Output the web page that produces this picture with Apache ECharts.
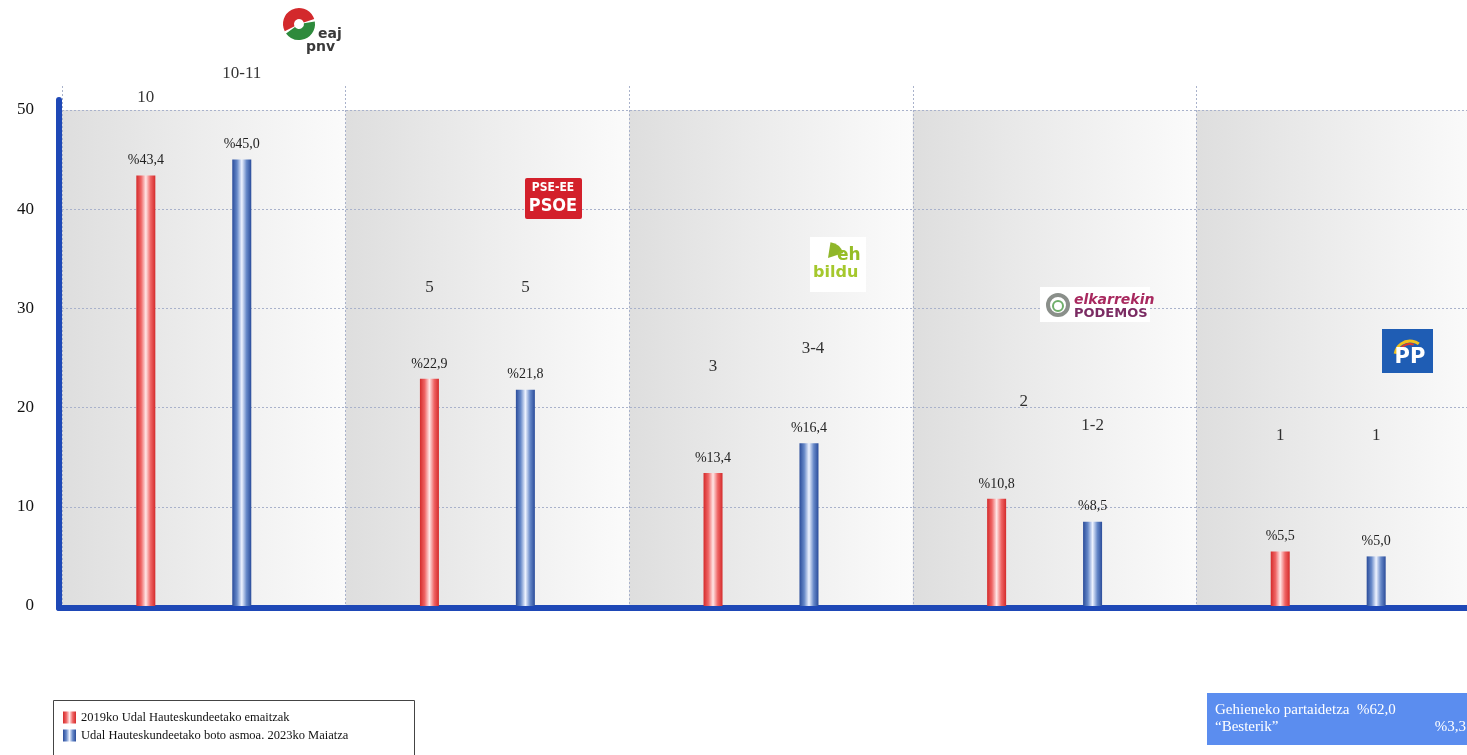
<!DOCTYPE html>
<html><head><meta charset="utf-8">
<script src="https://cdn.jsdelivr.net/npm/echarts@6/dist/echarts.min.js"></script>
<style>html,body{margin:0;padding:0;background:#fff}#c{width:1467px;height:755px}</style>
</head><body><div id="c"></div>
<script>
// ---- data ----
const parties = ['EAJ-PNV', 'PSE-EE (PSOE)', 'EH Bildu', 'Elkarrekin Podemos', 'PP'];
const results2019 = [43.4, 22.9, 13.4, 10.8, 5.5];
const intention2023 = [45.0, 21.8, 16.4, 8.5, 5.0];
const seats2019 = ['10', '5', '3', '2', '1'];
const seats2023 = ['10-11', '5', '3-4', '1-2', '1'];
const seatLevel2019 = [51.3, 32.1, 24.1, 20.6, 17.2];
const seatLevel2023 = [53.7, 32.1, 26.0, 18.2, 17.2];
const yTicks = [0, 10, 20, 30, 40, 50];
const seriesNames = ['2019ko Udal Hauteskundeetako emaitzak', 'Udal Hauteskundeetako boto asmoa. 2023ko Maiatza'];
const maxParticipation = '%62,0';
const othersShare = '%3,3';

// ---- layout ----
const SERIF = 'Liberation Serif';
const PX = 9.92;               // pixels per unit
const ZERO_Y = 606;
const BAR_W = 19, GAP_PCT = 405;
const HALF = BAR_W * (1 + GAP_PCT / 100) / 2;
const seatShift2019 = [0, 0, 0, 27, 0];
const seatShift2023 = [0, 0, 4, 0, 0];
const AXIS_BLUE = '#1e48b6';
const yMin = yTicks[0], yMax = yTicks[yTicks.length - 1], yStep = yTicks[1] - yTicks[0];
const barMax = 55;

const bandFill = {type: 'linear', x: 0, y: 0, x2: 1, y2: 0, colorStops: [
  {offset: 0, color: '#dedede'}, {offset: 0.5, color: '#ededed'}, {offset: 1, color: '#fbfbfb'}]};
const redFill = {type: 'linear', x: 0, y: 0, x2: 1, y2: 0, colorStops: [
  {offset: 0, color: '#d42b2b'}, {offset: 0.25, color: '#ef6464'}, {offset: 0.5, color: '#ffe6e6'},
  {offset: 0.75, color: '#ef6464'}, {offset: 1, color: '#d42b2b'}]};
const blueFill = {type: 'linear', x: 0, y: 0, x2: 1, y2: 0, colorStops: [
  {offset: 0, color: '#2a4c9a'}, {offset: 0.25, color: '#6688c8'}, {offset: 0.5, color: '#eef3ff'},
  {offset: 0.75, color: '#6688c8'}, {offset: 1, color: '#2a4c9a'}]};

const fmtPct = v => '%' + v.toFixed(1).replace('.', ',');
const dotted = {color: '#a9b2cb', width: 1, type: [2, 2]};

const chart = echarts.init(document.getElementById('c'), null, {renderer: 'canvas'});

function seatData(seats, levels, shifts, side) {
  return seats.map((s, i) => ({
    value: [i, levels[i]],
    label: {formatter: s, offset: [side * HALF + shifts[i], 0]}
  }));
}

const G = {outerBoundsMode: 'none', containLabel: false};
const legendBase = {
  orient: 'horizontal', left: 63, itemWidth: 13, itemHeight: 12, icon: 'rect', padding: 0,
  textStyle: {fontFamily: SERIF, fontSize: 12.5, color: '#111'}, z: 12
};

const option = {
  animation: false,
  backgroundColor: '#fff',
  grid: [
    Object.assign({left: 62, width: 1418, top: ZERO_Y - yMax * PX, bottom: 755 - ZERO_Y}, G),   // bands + horizontal lines
    Object.assign({left: 62, width: 1418, top: 86, bottom: 755 - ZERO_Y}, G),                   // vertical separators
    Object.assign({left: 59, width: 1421, top: 100, bottom: 755 - ZERO_Y - 2}, G),              // axis lines
    Object.assign({left: 52, width: 1418, top: ZERO_Y - barMax * PX, bottom: 755 - ZERO_Y}, G)  // bars
  ],
  xAxis: [
    {gridIndex: 0, type: 'category', data: parties, z: 0,
      axisLine: {show: false}, axisTick: {show: false}, axisLabel: {show: false},
      splitLine: {show: false}, splitArea: {show: true, areaStyle: {color: [bandFill]}}},
    {gridIndex: 1, type: 'category', data: parties, z: 1,
      axisLine: {show: false}, axisTick: {show: false}, axisLabel: {show: false},
      splitLine: {show: true, lineStyle: dotted}},
    {gridIndex: 2, type: 'category', data: parties, z: 3,
      axisLine: {show: true, lineStyle: {color: AXIS_BLUE, width: 6}},
      axisTick: {show: false}, axisLabel: {show: false}, splitLine: {show: false}},
    {gridIndex: 3, type: 'category', data: parties, show: false}
  ],
  yAxis: [
    {gridIndex: 0, type: 'value', min: yMin, max: yMax, interval: yStep, z: 1,
      axisLine: {show: false}, axisTick: {show: false},
      axisLabel: {margin: 28, color: '#111', fontFamily: SERIF, fontSize: 17},
      splitLine: {show: true, lineStyle: dotted}},
    {gridIndex: 1, type: 'value', min: 0, max: 1, show: false},
    {gridIndex: 2, type: 'value', min: 0, max: 1, z: 3,
      axisLine: {show: true, lineStyle: {color: AXIS_BLUE, width: 6}},
      axisTick: {show: false}, axisLabel: {show: false}, splitLine: {show: false}},
    {gridIndex: 3, type: 'value', min: 0, max: barMax, show: false}
  ],
  legend: [
    Object.assign({data: [seriesNames[0]], top: 711}, legendBase),
    Object.assign({data: [seriesNames[1]], top: 729}, legendBase)
  ],
  series: [
    {name: seriesNames[0], type: 'bar', xAxisIndex: 3, yAxisIndex: 3, data: results2019,
      barWidth: BAR_W, barGap: GAP_PCT + '%', z: 5, itemStyle: {color: redFill},
      label: {show: true, position: 'top', distance: 8, formatter: p => fmtPct(p.value),
        color: '#222', fontFamily: SERIF, fontSize: 14}},
    {name: seriesNames[1], type: 'bar', xAxisIndex: 3, yAxisIndex: 3, data: intention2023,
      barWidth: BAR_W, barGap: GAP_PCT + '%', z: 5, itemStyle: {color: blueFill},
      label: {show: true, position: 'top', distance: 8, formatter: p => fmtPct(p.value),
        color: '#222', fontFamily: SERIF, fontSize: 14}},
    {name: 'seats2019', type: 'scatter', xAxisIndex: 3, yAxisIndex: 3, z: 6, clip: false,
      symbolSize: 1, itemStyle: {color: 'rgba(0,0,0,0)'},
      label: {show: true, position: 'inside', color: '#000', fontFamily: SERIF, fontSize: 17},
      data: seatData(seats2019, seatLevel2019, seatShift2019, -1)},
    {name: 'seats2023', type: 'scatter', xAxisIndex: 3, yAxisIndex: 3, z: 6, clip: false,
      symbolSize: 1, itemStyle: {color: 'rgba(0,0,0,0)'},
      label: {show: true, position: 'inside', color: '#000', fontFamily: SERIF, fontSize: 17},
      data: seatData(seats2023, seatLevel2023, seatShift2023, 1)}
  ],
  graphic: [
    // legend box
    {type: 'rect', z: 1, shape: {x: 53.5, y: 700.5, width: 361, height: 70}, style: {fill: '#fff', stroke: '#444', lineWidth: 1}},
    // EAJ-PNV logo
    {type: 'sector', z: 10, shape: {cx: 299, cy: 24, r: 16, r0: 5, startAngle: Math.PI * 0.85, endAngle: Math.PI * 1.9}, style: {fill: '#d3292c'}},
    {type: 'sector', z: 10, shape: {cx: 299, cy: 24, r: 16, r0: 5, startAngle: -Math.PI * 0.05, endAngle: Math.PI * 0.8}, style: {fill: '#2e8a3c'}},
    {type: 'text', z: 10, style: {x: 318, y: 34, text: 'eaj', font: 'bold 14px "DejaVu Sans"', fill: '#3a3a3a', textVerticalAlign: 'middle'}},
    {type: 'text', z: 10, style: {x: 306, y: 47, text: 'pnv', font: 'bold 14px "DejaVu Sans"', fill: '#3a3a3a', textVerticalAlign: 'middle'}},
    // PSE-EE PSOE logo
    {type: 'rect', z: 10, shape: {x: 525, y: 178, width: 57, height: 41, r: 2}, style: {fill: '#d3202b'}},
    {type: 'text', z: 11, style: {x: 553, y: 188, text: 'PSE-EE', font: 'bold 12px "DejaVu Sans Condensed", "DejaVu Sans"', fill: '#fff', textAlign: 'center', textVerticalAlign: 'middle'}},
    {type: 'text', z: 11, style: {x: 553, y: 206, text: 'PSOE', font: 'bold 18px "DejaVu Sans Condensed", "DejaVu Sans"', fill: '#fff', textAlign: 'center', textVerticalAlign: 'middle'}},
    // EH Bildu logo
    {type: 'rect', z: 10, shape: {x: 810, y: 237, width: 56, height: 55}, style: {fill: '#ffffff'}},
    {type: 'sector', z: 11, shape: {cx: 828, cy: 258, r: 16, r0: 0, startAngle: -Math.PI * 0.45, endAngle: -Math.PI * 0.1}, style: {fill: '#8fb62a'}},
    {type: 'text', z: 11, style: {x: 837, y: 256, text: 'eh', font: 'bold 17px "DejaVu Sans"', fill: '#96bd26', textVerticalAlign: 'middle'}},
    {type: 'text', z: 11, style: {x: 813, y: 273, text: 'bildu', font: 'bold 16px "DejaVu Sans"', fill: '#a5c82d', textVerticalAlign: 'middle'}},
    // Elkarrekin Podemos logo
    {type: 'rect', z: 10, shape: {x: 1040, y: 287, width: 110, height: 35}, style: {fill: '#ffffff'}},
    {type: 'circle', z: 11, shape: {cx: 1058, cy: 305, r: 10}, style: {fill: 'none', stroke: '#8a8f8a', lineWidth: 4}},
    {type: 'circle', z: 11, shape: {cx: 1058, cy: 306, r: 5}, style: {fill: 'none', stroke: '#6fae6a', lineWidth: 2}},
    {type: 'text', z: 11, style: {x: 1074, y: 300, text: 'elkarrekin', font: 'italic bold 14px "DejaVu Sans"', fill: '#a8295f', textVerticalAlign: 'middle'}},
    {type: 'text', z: 11, style: {x: 1074, y: 314, text: 'PODEMOS', font: 'bold 13px "DejaVu Sans"', fill: '#7b2c63', textVerticalAlign: 'middle'}},
    // PP logo
    {type: 'rect', z: 10, shape: {x: 1382, y: 329, width: 51, height: 44}, style: {fill: '#1f5db4'}},
    {type: 'arc', z: 11, shape: {cx: 1410, cy: 356, r: 15, startAngle: Math.PI * 1.05, endAngle: Math.PI * 1.7}, style: {stroke: '#f2c21b', lineWidth: 3, fill: 'none'}},
    {type: 'arc', z: 11, shape: {cx: 1410, cy: 356, r: 12, startAngle: Math.PI * 1.1, endAngle: Math.PI * 1.6}, style: {stroke: '#e23a2a', lineWidth: 2, fill: 'none'}},
    {type: 'text', z: 11, style: {x: 1410, y: 358, text: 'PP', font: 'bold 21px "DejaVu Sans"', fill: '#fff', textAlign: 'center', textVerticalAlign: 'middle'}},
    // participation box
    {type: 'rect', z: 10, shape: {x: 1207, y: 693, width: 270, height: 52}, style: {fill: '#5b8def'}},
    {type: 'text', z: 11, style: {x: 1215, y: 710, text: 'Gehieneko partaidetza  ' + maxParticipation, font: '15px "Liberation Serif"', fill: '#fff', textVerticalAlign: 'middle'}},
    {type: 'text', z: 11, style: {x: 1215, y: 727, text: '\u201cBesterik\u201d', font: '15px "Liberation Serif"', fill: '#fff', textVerticalAlign: 'middle'}},
    {type: 'text', z: 11, style: {x: 1466, y: 727, text: othersShare, font: '15px "Liberation Serif"', fill: '#fff', textAlign: 'right', textVerticalAlign: 'middle'}}
  ]
};
chart.setOption(option);
</script>
</body></html>
